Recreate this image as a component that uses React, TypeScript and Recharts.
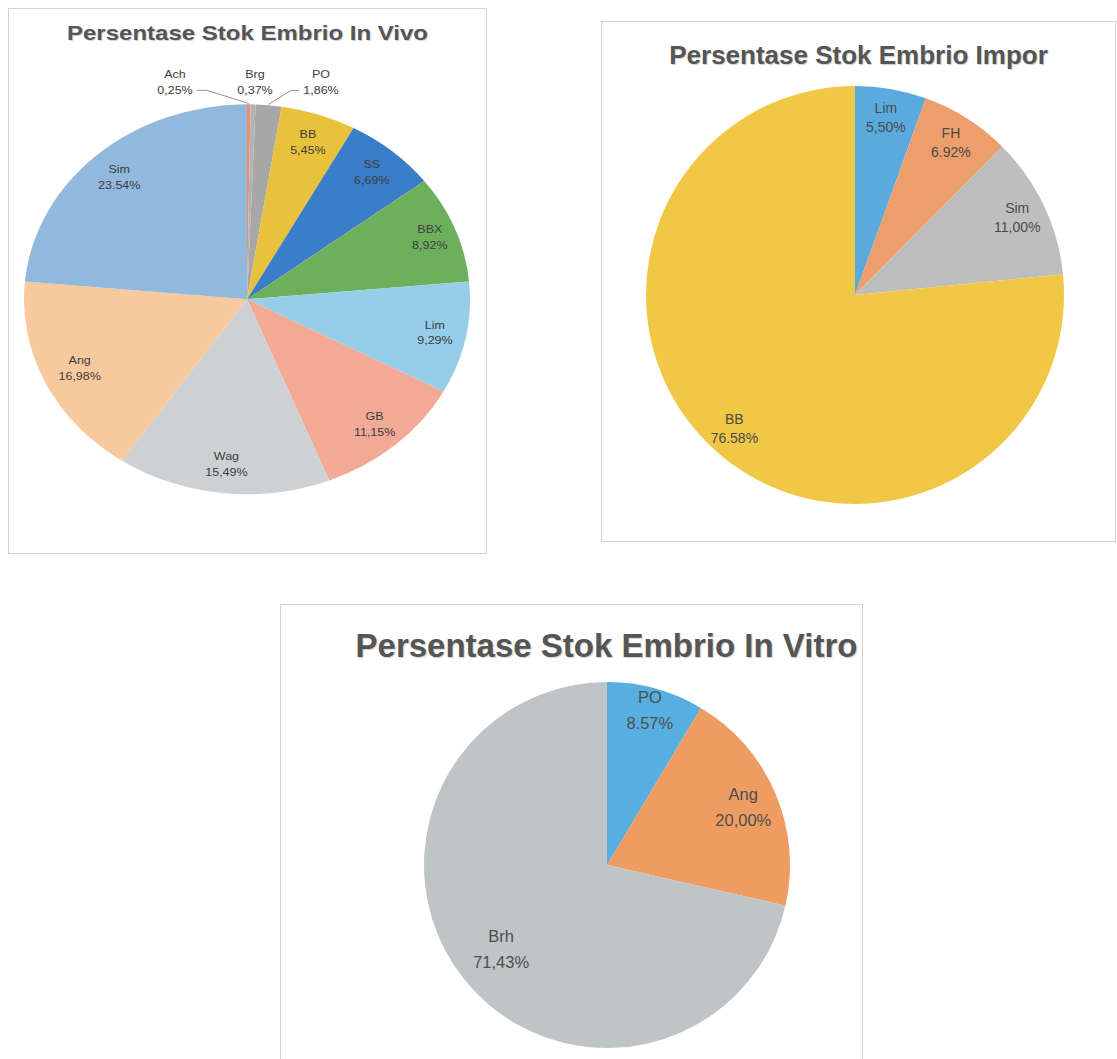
import { PieChart, Pie, Cell } from 'recharts';

// In Vivo
const vivoNames = ['Ach', 'Brg', 'PO', 'BB', 'SS', 'BBX', 'Lim', 'GB', 'Wag', 'Ang', 'Sim'];
const vivoValues = [0.25, 0.37, 1.86, 5.45, 6.69, 8.92, 9.29, 11.15, 15.49, 16.98, 23.54];
const vivoLabels = ['0,25%', '0,37%', '1,86%', '5,45%', '6,69%', '8,92%', '9,29%', '11,15%', '15,49%', '16,98%', '23.54%'];
const vivoColors = ['#E8906A', '#B3B3B3', '#A7A7A7', '#E9C23C', '#3A7DC9', '#6DB05C', '#96CDE8', '#F2AA96', '#CDD1D3', '#F8C99E', '#92B8DD'];

// Impor
const imporNames = ['Lim', 'FH', 'Sim', 'BB'];
const imporValues = [5.5, 6.92, 11.0, 76.58];
const imporLabels = ['5,50%', '6.92%', '11,00%', '76.58%'];
const imporColors = ['#5AAADD', '#EE9E6B', '#BEBEBE', '#F0C846'];

// In Vitro
const vitroNames = ['PO', 'Ang', 'Brh'];
const vitroValues = [8.57, 20.0, 71.43];
const vitroLabels = ['8.57%', '20,00%', '71,43%'];
const vitroColors = ['#57AEE0', '#EE9C62', '#BFC4C7'];

const RAD = Math.PI / 180;
const FONT = '"Liberation Sans", Arial, sans-serif';
const TITLE_COLOR = '#555555';

function toRows(names: string[], values: number[]) {
  return names.map((name, i) => ({ name, value: values[i] }));
}

interface LabelCfg {
  names: string[];
  labels: string[];
  k: number | number[];
  size: number;
  gap: number;
  color: string;
  outside?: number[]; // x offset from centre for small slices drawn above the pie
}

function sliceLabel(cfg: LabelCfg) {
  return (p: any) => {
    const i = p.index;
    const cos = Math.cos(-p.midAngle * RAD);
    const sin = Math.sin(-p.midAngle * RAD);
    if (cfg.outside && i < cfg.outside.length) {
      const ex = p.cx + p.outerRadius * cos;
      const ey = p.cy + p.outerRadius * sin;
      const lx = p.cx + cfg.outside[i];
      const py = p.cy - p.outerRadius - 12;
      let line = null;
      if (cfg.outside[i] < -20) {
        line = <polyline points={`${lx + 22},${py - 4} ${lx + 32},${py - 4} ${ex},${ey - 1}`} fill="none" stroke="#8a8a8a" strokeWidth={1} />;
      } else if (cfg.outside[i] > 20) {
        line = <polyline points={`${lx - 22},${py - 4} ${lx - 30},${py - 4} ${ex},${ey - 1}`} fill="none" stroke="#8a8a8a" strokeWidth={1} />;
      }
      return (
        <g key={`out-${i}`}>
          {line}
          <text x={lx} y={py} textAnchor="middle" fontSize={cfg.size} fill={cfg.color} fontFamily={FONT}>
            <tspan x={lx} dy={-cfg.gap}>{cfg.names[i]}</tspan>
            <tspan x={lx} dy={cfg.gap}>{cfg.labels[i]}</tspan>
          </text>
        </g>
      );
    }
    const k = Array.isArray(cfg.k) ? cfg.k[i] : cfg.k;
    const r = p.outerRadius * k;
    const x = p.cx + r * cos;
    const y = p.cy + r * sin;
    return (
      <text key={`in-${i}`} x={x} y={y} textAnchor="middle" fontSize={cfg.size} fill={cfg.color} fontFamily={FONT}>
        <tspan x={x} dy={-cfg.gap / 2 + cfg.size * 0.35}>{cfg.names[i]}</tspan>
        <tspan x={x} dy={cfg.gap}>{cfg.labels[i]}</tspan>
      </text>
    );
  };
}

const titleStyle = (top: number, size: number, shift = 0): React.CSSProperties => ({
  position: 'absolute',
  left: shift,
  right: -shift,
  top,
  textAlign: 'center',
  fontFamily: FONT,
  fontWeight: 'bold',
  fontSize: size,
  lineHeight: `${size}px`,
  color: TITLE_COLOR,
  textShadow: '1px 1px 1px rgba(0,0,0,0.2)',
  whiteSpace: 'nowrap',
  zIndex: 1,
});

const panel = (left: number, top: number, width: number, height: number): React.CSSProperties => ({
  position: 'absolute',
  left,
  top,
  width,
  height,
  border: '1px solid #d2d2d2',
  background: '#fff',
  overflow: 'hidden',
});

const noMargin = { top: 0, right: 0, bottom: 0, left: 0 };

export default function App() {
  // the scanned in-vivo chart is squashed vertically
  const squash = 0.8744;
  const vivoR = 223;

  return (
    <div style={{ position: 'absolute', left: 0, top: 0, width: 1117, height: 1059, overflow: 'hidden', background: '#fff' }}>
      {/* In Vivo */}
      <div style={panel(8, 8, 477, 544)}>
        <div style={{ position: 'absolute', left: 0, top: 0, width: 477, height: 544 / squash, transform: `scaleY(${squash})`, transformOrigin: '0 0' }}>
          <div style={titleStyle(16, 24)}>Persentase Stok Embrio In Vivo</div>
          <PieChart width={477} height={Math.round(544 / squash)} margin={noMargin}>
            <Pie
              data={toRows(vivoNames, vivoValues)}
              dataKey="value"
              nameKey="name"
              cx={238}
              cy={332}
              outerRadius={vivoR}
              startAngle={90}
              endAngle={-270}
              stroke="none"
              labelLine={false}
              label={sliceLabel({
                names: vivoNames,
                labels: vivoLabels,
                k: [0, 0, 0, 0.85, 0.86, 0.88, 0.86, 0.86, 0.85, 0.83, 0.85],
                size: 12.5,
                gap: 18,
                color: '#3d3d3d',
                outside: [-72, 8, 74],
              })}
              isAnimationActive={false}
            >
              {vivoColors.map((c, i) => (
                <Cell key={i} fill={c} />
              ))}
            </Pie>
          </PieChart>
        </div>
      </div>

      {/* Impor */}
      <div style={panel(601, 21, 513, 519)}>
        <div style={titleStyle(20, 26)}>Persentase Stok Embrio Impor</div>
        <PieChart width={513} height={519} margin={noMargin}>
          <Pie
            data={toRows(imporNames, imporValues)}
            dataKey="value"
            nameKey="name"
            cx={253}
            cy={273}
            outerRadius={209}
            startAngle={90}
            endAngle={-270}
            stroke="none"
            labelLine={false}
            label={sliceLabel({ names: imporNames, labels: imporLabels, k: 0.86, size: 14, gap: 19, color: '#4a4a4a' })}
            isAnimationActive={false}
          >
            {imporColors.map((c, i) => (
              <Cell key={i} fill={c} />
            ))}
          </Pie>
        </PieChart>
      </div>

      {/* In Vitro */}
      <div style={panel(280, 604, 581, 470)}>
        <div style={titleStyle(24, 33, 35)}>Persentase Stok Embrio In Vitro</div>
        <PieChart width={581} height={470} margin={noMargin}>
          <Pie
            data={toRows(vitroNames, vitroValues)}
            dataKey="value"
            nameKey="name"
            cx={326}
            cy={260}
            outerRadius={183}
            startAngle={90}
            endAngle={-270}
            stroke="none"
            labelLine={false}
            label={sliceLabel({ names: vitroNames, labels: vitroLabels, k: [0.88, 0.81, 0.74], size: 16.5, gap: 26, color: '#4f4f4f' })}
            isAnimationActive={false}
          >
            {vitroColors.map((c, i) => (
              <Cell key={i} fill={c} />
            ))}
          </Pie>
        </PieChart>
      </div>
    </div>
  );
}
